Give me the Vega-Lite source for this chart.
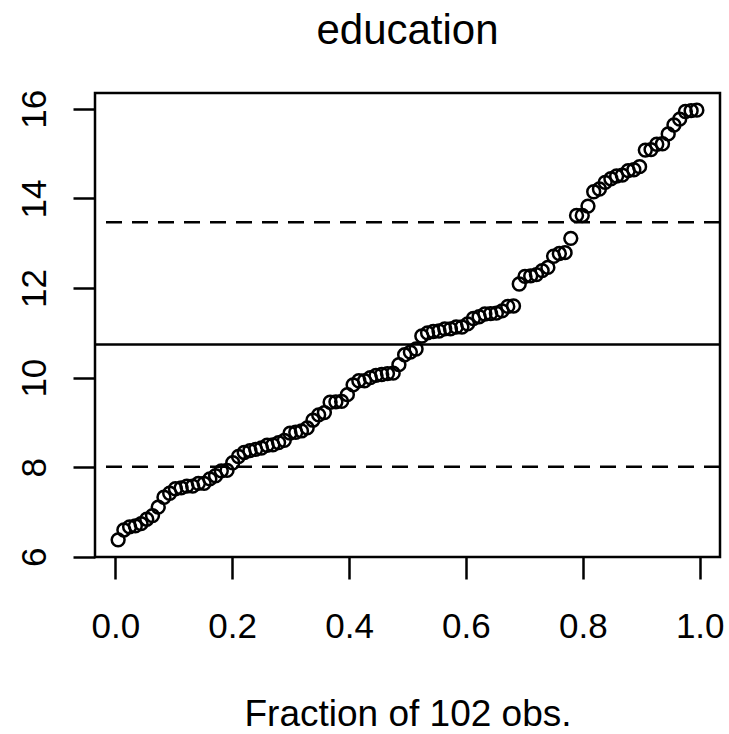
{
  "$schema": "https://vega.github.io/schema/vega-lite/v6.json",
  "autosize": {"type": "none"},
  "padding": {"left": 95, "top": 93, "right": 9, "bottom": 177},
  "width": 625,
  "height": 464,
  "background": "white",
  "title": {
    "text": "education",
    "font": "Liberation Sans",
    "fontSize": 42,
    "fontWeight": "normal",
    "color": "black",
    "anchor": "middle",
    "baseline": "alphabetic",
    "offset": 3
  },
  "config": {
    "view": {"stroke": "black", "strokeWidth": 2.5},
    "axis": {
      "grid": false,
      "domain": false,
      "tickColor": "black",
      "tickWidth": 2.5,
      "tickSize": 22,
      "labelFont": "Liberation Sans",
      "labelFontSize": 35,
      "labelColor": "black",
      "titleFont": "Liberation Sans",
      "titleFontSize": 37,
      "titleFontWeight": "normal",
      "titleColor": "black"
    }
  },
  "datasets": {
    "points": [
      {"fraction": 0.0049, "education": 6.38},
      {"fraction": 0.0147, "education": 6.60},
      {"fraction": 0.0245, "education": 6.67},
      {"fraction": 0.0343, "education": 6.69},
      {"fraction": 0.0441, "education": 6.74},
      {"fraction": 0.0539, "education": 6.84},
      {"fraction": 0.0637, "education": 6.92},
      {"fraction": 0.0735, "education": 7.11},
      {"fraction": 0.0833, "education": 7.33},
      {"fraction": 0.0931, "education": 7.42},
      {"fraction": 0.1029, "education": 7.52},
      {"fraction": 0.1127, "education": 7.54},
      {"fraction": 0.1225, "education": 7.58},
      {"fraction": 0.1324, "education": 7.58},
      {"fraction": 0.1422, "education": 7.64},
      {"fraction": 0.1520, "education": 7.64},
      {"fraction": 0.1618, "education": 7.74},
      {"fraction": 0.1716, "education": 7.81},
      {"fraction": 0.1814, "education": 7.92},
      {"fraction": 0.1912, "education": 7.93},
      {"fraction": 0.2010, "education": 8.10},
      {"fraction": 0.2108, "education": 8.24},
      {"fraction": 0.2206, "education": 8.33},
      {"fraction": 0.2304, "education": 8.37},
      {"fraction": 0.2402, "education": 8.40},
      {"fraction": 0.2500, "education": 8.43},
      {"fraction": 0.2598, "education": 8.49},
      {"fraction": 0.2696, "education": 8.50},
      {"fraction": 0.2794, "education": 8.55},
      {"fraction": 0.2892, "education": 8.60},
      {"fraction": 0.2990, "education": 8.76},
      {"fraction": 0.3088, "education": 8.78},
      {"fraction": 0.3186, "education": 8.81},
      {"fraction": 0.3284, "education": 8.88},
      {"fraction": 0.3382, "education": 9.05},
      {"fraction": 0.3480, "education": 9.17},
      {"fraction": 0.3578, "education": 9.22},
      {"fraction": 0.3676, "education": 9.45},
      {"fraction": 0.3775, "education": 9.46},
      {"fraction": 0.3873, "education": 9.47},
      {"fraction": 0.3971, "education": 9.62},
      {"fraction": 0.4069, "education": 9.84},
      {"fraction": 0.4167, "education": 9.93},
      {"fraction": 0.4265, "education": 9.93},
      {"fraction": 0.4363, "education": 10.00},
      {"fraction": 0.4461, "education": 10.05},
      {"fraction": 0.4559, "education": 10.07},
      {"fraction": 0.4657, "education": 10.09},
      {"fraction": 0.4755, "education": 10.10},
      {"fraction": 0.4853, "education": 10.29},
      {"fraction": 0.4951, "education": 10.51},
      {"fraction": 0.5049, "education": 10.57},
      {"fraction": 0.5147, "education": 10.64},
      {"fraction": 0.5245, "education": 10.93},
      {"fraction": 0.5343, "education": 11.00},
      {"fraction": 0.5441, "education": 11.03},
      {"fraction": 0.5539, "education": 11.04},
      {"fraction": 0.5637, "education": 11.09},
      {"fraction": 0.5735, "education": 11.09},
      {"fraction": 0.5833, "education": 11.13},
      {"fraction": 0.5931, "education": 11.13},
      {"fraction": 0.6029, "education": 11.20},
      {"fraction": 0.6127, "education": 11.32},
      {"fraction": 0.6225, "education": 11.36},
      {"fraction": 0.6324, "education": 11.42},
      {"fraction": 0.6422, "education": 11.43},
      {"fraction": 0.6520, "education": 11.44},
      {"fraction": 0.6618, "education": 11.49},
      {"fraction": 0.6716, "education": 11.59},
      {"fraction": 0.6814, "education": 11.60},
      {"fraction": 0.6912, "education": 12.09},
      {"fraction": 0.7010, "education": 12.26},
      {"fraction": 0.7108, "education": 12.27},
      {"fraction": 0.7206, "education": 12.30},
      {"fraction": 0.7304, "education": 12.39},
      {"fraction": 0.7402, "education": 12.46},
      {"fraction": 0.7500, "education": 12.71},
      {"fraction": 0.7598, "education": 12.77},
      {"fraction": 0.7696, "education": 12.79},
      {"fraction": 0.7794, "education": 13.11},
      {"fraction": 0.7892, "education": 13.62},
      {"fraction": 0.7990, "education": 13.62},
      {"fraction": 0.8088, "education": 13.83},
      {"fraction": 0.8186, "education": 14.15},
      {"fraction": 0.8284, "education": 14.21},
      {"fraction": 0.8382, "education": 14.36},
      {"fraction": 0.8480, "education": 14.44},
      {"fraction": 0.8578, "education": 14.50},
      {"fraction": 0.8676, "education": 14.52},
      {"fraction": 0.8775, "education": 14.62},
      {"fraction": 0.8873, "education": 14.64},
      {"fraction": 0.8971, "education": 14.71},
      {"fraction": 0.9069, "education": 15.08},
      {"fraction": 0.9167, "education": 15.09},
      {"fraction": 0.9265, "education": 15.21},
      {"fraction": 0.9363, "education": 15.22},
      {"fraction": 0.9461, "education": 15.44},
      {"fraction": 0.9559, "education": 15.64},
      {"fraction": 0.9657, "education": 15.77},
      {"fraction": 0.9755, "education": 15.94},
      {"fraction": 0.9853, "education": 15.96},
      {"fraction": 0.9951, "education": 15.97}
    ],
    "lines": [
      {"level": 10.738, "kind": "mean"},
      {"level": 8.010, "kind": "sd"},
      {"level": 13.467, "kind": "sd"}
    ]
  },
  "layer": [
    {
      "data": {"name": "lines"},
      "mark": {"type": "rule", "color": "black", "strokeWidth": 2.5},
      "encoding": {
        "y": {"field": "level", "type": "quantitative", "scale": {"domain": [5.9964, 16.3536], "nice": false, "zero": false}},
        "strokeDash": {"field": "kind", "type": "nominal", "scale": {"domain": ["mean", "sd"], "range": [[1, 0], [16, 10]]}, "legend": null}
      }
    },
    {
      "data": {"name": "points"},
      "mark": {"type": "point", "shape": "circle", "filled": false, "color": "black", "strokeWidth": 2.5, "size": 165, "opacity": 1},
      "encoding": {
        "x": {
          "field": "fraction", "type": "quantitative",
          "scale": {"domain": [-0.0347, 1.0347], "nice": false, "zero": false},
          "axis": {"values": [0, 0.2, 0.4, 0.6, 0.8, 1.0], "format": ".1f", "labelPadding": 30, "labelBaseline": "top", "title": "Fraction of 102 obs.", "titleBaseline": "alphabetic", "titleY": 168, "titleX": 312.5, "titleAnchor": "middle"}
        },
        "y": {
          "field": "education", "type": "quantitative",
          "scale": {"domain": [5.9964, 16.3536], "nice": false, "zero": false},
          "axis": {"values": [6, 8, 10, 12, 14, 16], "format": "d", "labelAngle": 270, "labelAlign": "center", "labelBaseline": "alphabetic", "labelPadding": 28, "title": null}
        }
      }
    }
  ]
}
